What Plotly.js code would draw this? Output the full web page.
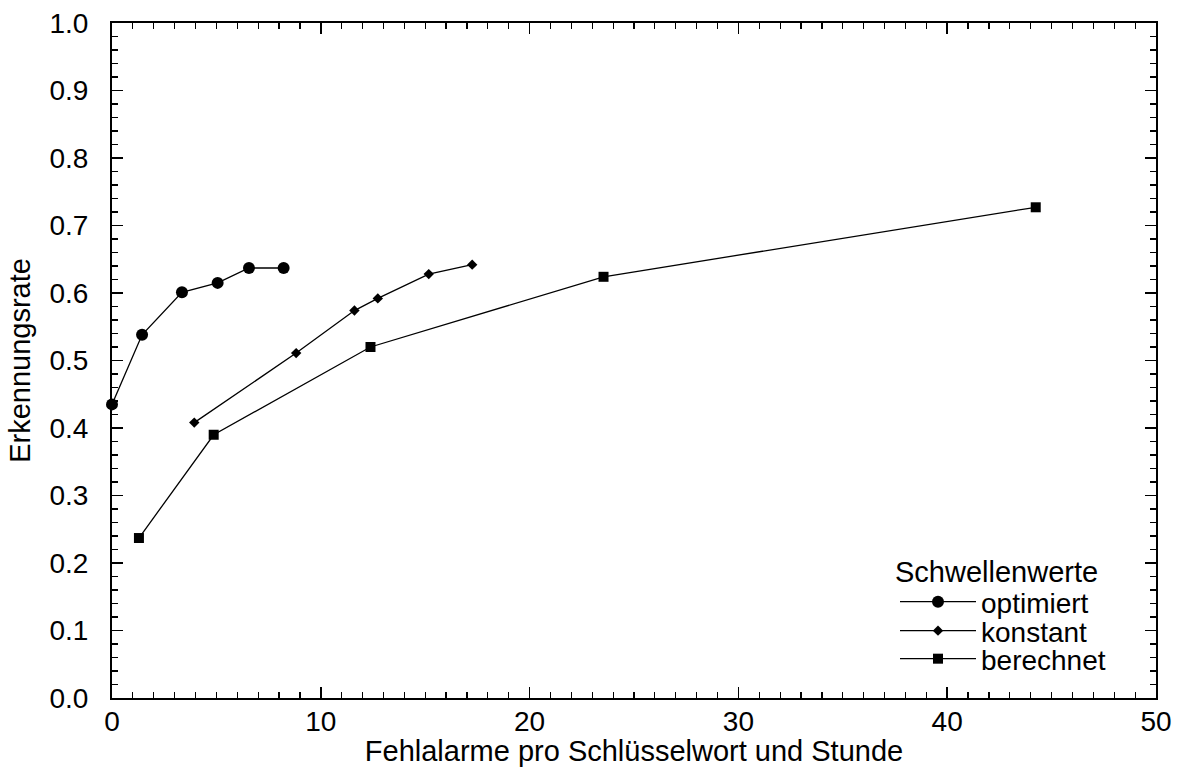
<!DOCTYPE html>
<html>
<head>
<meta charset="utf-8">
<script src="https://cdn.plot.ly/plotly-3.0.1.min.js"></script>
<style>html,body{margin:0;padding:0;background:#fff;}#chart{width:1178px;height:767px;}</style>
</head>
<body>
<div id="chart"></div>
<script>
const optimiertX = [0, 1.44, 3.35, 5.06, 6.56, 8.22];
const optimiertY = [0.435, 0.538, 0.601, 0.615, 0.637, 0.637];
const konstantX = [3.94, 8.82, 11.61, 12.73, 15.17, 17.25];
const konstantY = [0.408, 0.511, 0.574, 0.592, 0.628, 0.642];
const berechnetX = [1.29, 4.87, 12.38, 23.54, 44.24];
const berechnetY = [0.237, 0.390, 0.520, 0.624, 0.727];
const seriesNames = ["optimiert", "konstant", "berechnet"];
const xTitle = "Fehlalarme pro Schlüsselwort und Stunde";
const yTitle = "Erkennungsrate";
const legendTitle = "Schwellenwerte";

const FONT = "Liberation Sans, Arial, Helvetica, sans-serif";
const TXT = {family: FONT, size: 29, color: "#000"};
const LEGTXT = {family: FONT, size: 28, color: "#000"};
function tr(x, y, name, symbol, size, leg) {
  return {x: x, y: y, name: name, type: "scatter", mode: "lines+markers",
    line: {color: "#000", width: 1.3},
    marker: {symbol: symbol, size: size, color: "#000"},
    legend: leg, cliponaxis: false};
}
const data = [
  tr(optimiertX, optimiertY, seriesNames[0], "circle", 12, "legend"),
  tr(konstantX, konstantY, seriesNames[1], "diamond", 8, "legend2"),
  tr(berechnetX, berechnetY, seriesNames[2], "square", 10, "legend3")
];
function leg(y) {
  return {x: 0.75, y: y, xanchor: "left", yanchor: "middle",
    bgcolor: "rgba(0,0,0,0)", borderwidth: 0, font: LEGTXT, itemwidth: 76};
}
const axisCommon = {
  showline: true, linecolor: "#000", linewidth: 2, mirror: "allticks",
  ticks: "inside", ticklen: 11, tickwidth: 1.5, tickcolor: "#000",
  showgrid: false, zeroline: false,
  tickfont: {family: FONT, size: 28, color: "#000"}
};
const layout = {
  width: 1178, height: 767,
  margin: {l: 112, r: 22, t: 23, b: 69},
  paper_bgcolor: "#fff", plot_bgcolor: "#fff",
  font: {family: FONT, color: "#000"},
  showlegend: true,
  legend: leg(0.1422),
  legend2: leg(0.0993),
  legend3: leg(0.0578),
  annotations: [{
    text: legendTitle, xref: "paper", yref: "paper", x: 0.748, y: 0.1867,
    xanchor: "left", yanchor: "middle", showarrow: false, font: TXT
  }],
  xaxis: Object.assign({}, axisCommon, {
    range: [0, 50], dtick: 10, tick0: 0,
    ticklabelstandoff: -3,
    minor: {dtick: 1, ticks: "inside", ticklen: 6, tickwidth: 1.2, tickcolor: "#000"},
    title: {text: xTitle, font: TXT, standoff: 8}
  }),
  yaxis: Object.assign({}, axisCommon, {
    range: [0, 1], dtick: 0.1, tick0: 0, tickformat: ".1f",
    ticklabelstandoff: 16,
    minor: {dtick: 0.02, ticks: "inside", ticklen: 6, tickwidth: 1.2, tickcolor: "#000"},
    title: {text: yTitle, font: TXT, standoff: 10}
  })
};
Plotly.newPlot("chart", data, layout, {displayModeBar: false, staticPlot: true});
</script>
</body>
</html>
